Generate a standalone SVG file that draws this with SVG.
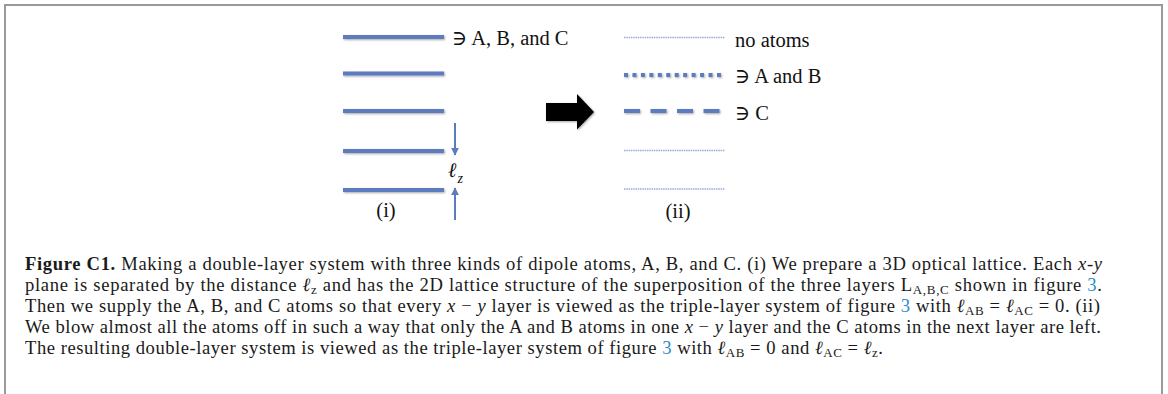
<svg xmlns="http://www.w3.org/2000/svg" width="1168" height="394" viewBox="0 0 1168 394">
<style>
.lbl{font-family:"Liberation Serif","DejaVu Serif",serif;font-size:20.5px;fill:#111}
.cap{font-family:"Liberation Serif","DejaVu Serif",serif;font-size:18.6px;fill:#1a1a1a}
.it{font-style:italic}
.sub{font-size:13px}
.lnk{fill:#2a8cc8}
.solid{stroke:#5d7cc0;stroke-width:4;fill:none}
.thin{stroke:#9aa9d6;stroke-width:1.3;fill:none;stroke-dasharray:1.5 0.8}
.ar{stroke:#5d7cc0;stroke-width:2;fill:none}
</style>
<defs>
<filter id="sh" filterUnits="userSpaceOnUse" x="0" y="0" width="1168" height="394">
<feDropShadow dx="1" dy="1" stdDeviation="0.8" flood-color="#000" flood-opacity="0.35"/>
</filter>
<marker id="ah" viewBox="0 0 10 10" refX="9" refY="5" markerWidth="4" markerHeight="4" orient="auto" markerUnits="strokeWidth">
<path d="M0,0 L10,5 L0,10 z" fill="#5d7cc0"/>
</marker>
</defs>
<rect x="5" y="5" width="1157" height="400" fill="#fff" stroke="#9a9a9a" stroke-width="2"/>

<g id="layers-i" filter="url(#sh)">
<line class="solid" x1="343" y1="37" x2="444" y2="37"/>
<line class="solid" x1="343" y1="73.5" x2="444" y2="73.5"/>
<line class="solid" x1="343" y1="111" x2="444" y2="111"/>
<line class="solid" x1="343" y1="151" x2="444" y2="151"/>
<line class="solid" x1="343" y1="190" x2="444" y2="190"/>
</g>
<g id="label-abc"><text class="lbl" x="452" y="45">∋ A, B, and C</text></g>
<g id="label-i"><text class="lbl" x="386" y="217" text-anchor="middle" font-size="17">(i)</text></g>
<g id="lz"><text class="lbl it" x="448" y="177" font-size="21">ℓ<tspan dx="1" dy="6" font-size="14">z</tspan></text></g>

<g id="connectors">
<line class="ar" x1="455" y1="123" x2="455" y2="155" marker-end="url(#ah)"/>
<line class="ar" x1="455" y1="220" x2="455" y2="188" marker-end="url(#ah)"/>
<polygon points="546,103 577,103 577,94 594,112 577,129.5 577,121 546,121" fill="#000" filter="url(#sh)"/>
</g>

<g id="layers-ii">
<line class="thin" x1="624" y1="37.5" x2="725" y2="37.5"/>
<line stroke="#5d7cc0" stroke-width="4" stroke-dasharray="4 4.45" x1="624" y1="75" x2="722" y2="75" filter="url(#sh)"/>
<line stroke="#5d7cc0" stroke-width="4" stroke-dasharray="16 10.5" x1="624" y1="111" x2="720" y2="111" filter="url(#sh)"/>
<line class="thin" x1="624" y1="150.5" x2="725" y2="150.5"/>
<line class="thin" x1="624" y1="189" x2="725" y2="189"/>
</g>
<g id="labels-ii">
<text class="lbl" x="735" y="47">no atoms</text>
<text class="lbl" x="735" y="83">∋ A and B</text>
<text class="lbl" x="735" y="120">∋ C</text>
<text class="lbl" x="678" y="218" text-anchor="middle" font-size="17">(ii)</text>
</g>

<g id="caption">
<text class="cap" x="25" y="270" textLength="1077" lengthAdjust="spacing"><tspan font-weight="bold">Figure C1.</tspan> Making a double-layer system with three kinds of dipole atoms, A, B, and C. (i) We prepare a 3D optical lattice. Each <tspan class="it">x</tspan>-<tspan class="it">y</tspan></text>
<text class="cap" x="25" y="291" textLength="1077" lengthAdjust="spacing">plane is separated by the distance <tspan class="it">ℓ</tspan><tspan class="sub" dy="3">z</tspan><tspan dy="-3"> and has the 2D lattice structure of the superposition of the three layers L</tspan><tspan class="sub" dy="3">A,B,C</tspan><tspan dy="-3"> shown in figure </tspan><tspan class="lnk">3</tspan>.</text>
<text class="cap" x="25" y="312" textLength="1075" lengthAdjust="spacing">Then we supply the A, B, and C atoms so that every <tspan class="it">x</tspan> − <tspan class="it">y</tspan> layer is viewed as the triple-layer system of figure <tspan class="lnk">3</tspan> with <tspan class="it">ℓ</tspan><tspan class="sub" dy="3">AB</tspan><tspan dy="-3"> = </tspan><tspan class="it">ℓ</tspan><tspan class="sub" dy="3">AC</tspan><tspan dy="-3"> = 0. (ii)</tspan></text>
<text class="cap" x="25" y="333" textLength="1076" lengthAdjust="spacing">We blow almost all the atoms off in such a way that only the A and B atoms in one <tspan class="it">x</tspan> − <tspan class="it">y</tspan> layer and the C atoms in the next layer are left.</text>
<text class="cap" x="25" y="354" textLength="858" lengthAdjust="spacing">The resulting double-layer system is viewed as the triple-layer system of figure <tspan class="lnk">3</tspan> with <tspan class="it">ℓ</tspan><tspan class="sub" dy="3">AB</tspan><tspan dy="-3"> = 0 and </tspan><tspan class="it">ℓ</tspan><tspan class="sub" dy="3">AC</tspan><tspan dy="-3"> = </tspan><tspan class="it">ℓ</tspan><tspan class="sub" dy="3">z</tspan><tspan dy="-3">.</tspan></text>
</g>
</svg>
